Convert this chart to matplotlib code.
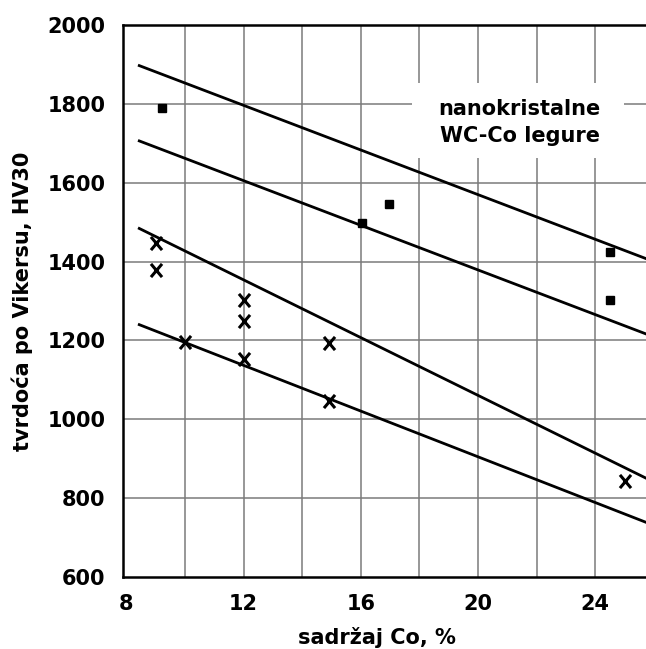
import matplotlib.pyplot as plt
from matplotlib.patches import Rectangle
from matplotlib.path import Path
import numpy as np

# tacke: kvadrati (nanokristalne legure) i krstici (konvencionalne)
sq_x = [9.23, 16.03, 16.97, 24.5, 24.5]
sq_y = [1790, 1497, 1546, 1425, 1303]

cr_x = [9.0, 9.0, 12.0, 12.0, 12.0, 10.0, 14.93, 14.93, 25.03]
cr_y = [1446, 1378, 1302, 1250, 1154, 1195, 1194, 1046, 843]

# prave (pocetak i kraj)
line_x = [8.44, 26.0]
lines_y = [
    [1897, 1400],
    [1706, 1209],
    [1484, 841],
    [1240, 731],
]

xticks = [8, 12, 16, 20, 24]
yticks = [600, 800, 1000, 1200, 1400, 1600, 1800, 2000]

plt.rcParams['font.family'] = 'DejaVu Sans'
plt.rcParams['font.weight'] = 'bold'

# krstic malo izduzen po visini, kao slovo X
krst = Path([(-0.42, -0.5), (0.42, 0.5), (0.42, -0.5), (-0.42, 0.5)],
            [Path.MOVETO, Path.LINETO, Path.MOVETO, Path.LINETO])

fig = plt.figure(figsize=(6.46, 6.49), dpi=100)
ax = fig.add_axes([123.3 / 646, 1 - 577 / 649, 1 - 123.3 / 646, (577 - 25) / 649])

ax.set_xlim(7.895, 25.735)
ax.set_ylim(600, 2000)

# mreza
for gx in np.arange(10, 26, 2):
    ax.axvline(gx, color='#7a7a7a', lw=1.1, zorder=0.5)
for gy in yticks[1:-1]:
    ax.axhline(gy, color='#7a7a7a', lw=1.1, zorder=0.5)

# bela pozadina za natpis
ax.add_patch(Rectangle((17.75, 1662), 7.23, 191, facecolor='white',
                       edgecolor='none', zorder=1))
ax.text(21.43, 1752, 'nanokristalne\nWC-Co legure', ha='center', va='center',
        fontsize=15, fontweight='bold', linespacing=1.45, zorder=3)

for ly in lines_y:
    ax.plot(line_x, ly, color='black', lw=2, zorder=2)

ax.plot(sq_x, sq_y, 's', color='black', markersize=5.8, zorder=3)
ax.plot(cr_x, cr_y, marker=krst, ls='none', color='black', markersize=9.5,
        mew=2.2, zorder=3)

ax.set_xticks(xticks)
ax.set_yticks(yticks)
ax.tick_params(length=0, labelsize=15, pad=12)
ax.tick_params(axis='y', pad=13)
for lab in ax.get_xticklabels() + ax.get_yticklabels():
    lab.set_fontweight('bold')

ax.spines['right'].set_visible(False)
for s in ['left', 'top', 'bottom']:
    ax.spines[s].set_linewidth(1.8)

ax.set_xlabel('sadržaj Co, %', fontsize=15, fontweight='bold', labelpad=8)
ax.set_ylabel('tvrdoća po Vikersu, HV30', fontsize=15, fontweight='bold', labelpad=10)
ax.xaxis.set_label_coords((377 - 123.3) / (646 - 123.3), -0.09)

fig.savefig('out.png', dpi=100)
